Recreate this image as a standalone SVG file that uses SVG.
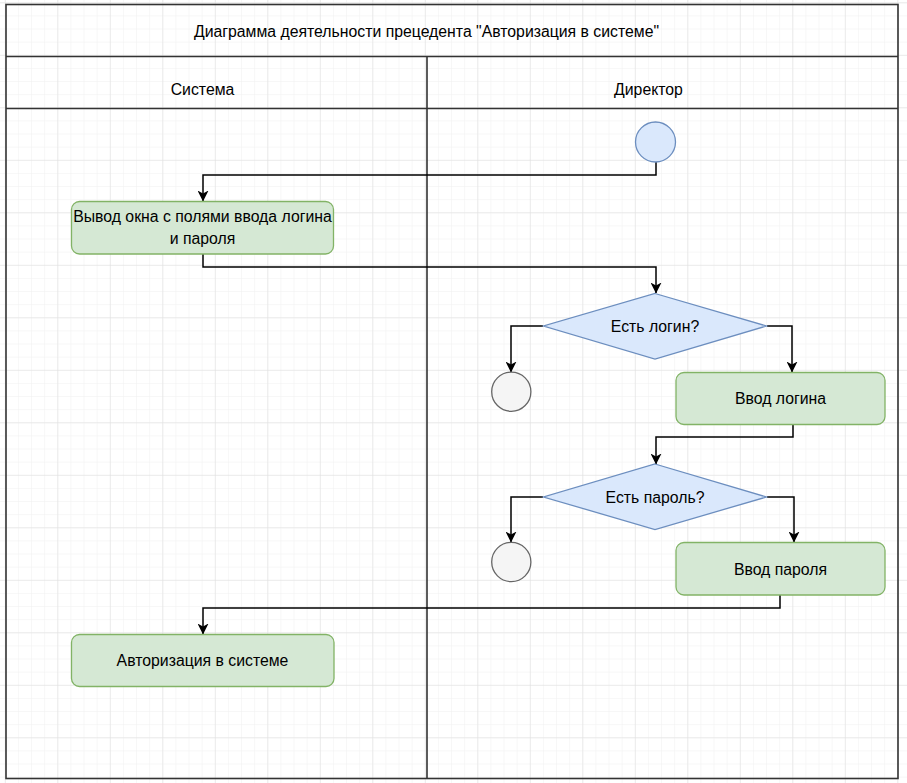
<svg xmlns="http://www.w3.org/2000/svg" width="907" height="783" viewBox="0 0 907 783">
<style>
.t{font-family:"Liberation Sans",Arial,sans-serif;font-size:15.8px;fill:#000;text-anchor:middle;dominant-baseline:central}
.frame{fill:none;stroke:#333;stroke-width:1.6}
.act{fill:#d5e8d4;stroke:#82b366;stroke-width:1.3}
.dec{fill:#dae8fc;stroke:#6c8ebf;stroke-width:1.3}
.end{fill:#f5f5f5;stroke:#666;stroke-width:1.3}
.edge{fill:none;stroke:#000;stroke-width:1.5}
</style>
<defs>
<pattern id="minor" x="4.8" y="2.3" width="13.125" height="13.125" patternUnits="userSpaceOnUse">
<path d="M0,0 V13.125 M0,0 H13.125" fill="none" stroke="#f0f0f0" stroke-width="1"/>
</pattern>
<pattern id="major" x="4.8" y="2.3" width="52.5" height="52.5" patternUnits="userSpaceOnUse">
<path d="M0,0 V52.5 M0,0 H52.5" fill="none" stroke="#dedede" stroke-width="1"/>
</pattern>
<marker id="arr" viewBox="0 0 11 11" markerWidth="11" markerHeight="11" refX="10.5" refY="5.5" orient="auto" markerUnits="userSpaceOnUse">
<path d="M0,0 L11,5.5 L0,11 L3,5.5 Z" fill="#000"/>
</marker>
</defs>
<rect width="907" height="783" fill="#fff"/>
<rect width="907" height="783" fill="url(#minor)"/>
<rect width="907" height="783" fill="url(#major)"/>

<g id="pool">
<rect class="frame" x="6" y="4.5" width="892" height="774"/>
<line class="frame" x1="6" y1="56.5" x2="898" y2="56.5"/>
<line class="frame" x1="6" y1="108.5" x2="898" y2="108.5"/>
<line class="frame" x1="427" y1="56.5" x2="427" y2="778.5"/>
<text class="t" x="426.5" y="31">Диаграмма деятельности прецедента "Авторизация в системе"</text>
</g>
<g id="lane-system"><text class="t" x="202.5" y="89">Система</text></g>
<g id="lane-director"><text class="t" x="648.5" y="89">Директор</text></g>

<g id="edges">
<path class="edge" marker-end="url(#arr)" d="M656,162 V175 H203 V201"/>
<path class="edge" marker-end="url(#arr)" d="M203,254 V267 H656 V293"/>
<path class="edge" marker-end="url(#arr)" d="M543,326 H511 V372"/>
<path class="edge" marker-end="url(#arr)" d="M767,326 H792 V372"/>
<path class="edge" marker-end="url(#arr)" d="M793,424 V437 H656 V464"/>
<path class="edge" marker-end="url(#arr)" d="M543,497 H511 V542"/>
<path class="edge" marker-end="url(#arr)" d="M767,497 H794 V542"/>
<path class="edge" marker-end="url(#arr)" d="M780,595 V608 H203 V634"/>
</g>

<g id="start"><circle class="dec" cx="655.5" cy="142" r="20"/></g>
<g id="show-window">
<rect class="act" x="71.5" y="201.5" width="262" height="52.5" rx="8"/>
<text class="t" x="202.5" y="216">Вывод окна с полями ввода логина</text>
<text class="t" x="202.5" y="238">и пароля</text>
</g>
<g id="has-login">
<polygon class="dec" points="655,293.5 766.5,326 655,359 543.5,326"/>
<text class="t" x="655" y="326">Есть логин?</text>
</g>
<g id="end1"><circle class="end" cx="511.3" cy="391.7" r="19.6"/></g>
<g id="enter-login">
<rect class="act" x="676" y="372.5" width="209" height="52" rx="8"/>
<text class="t" x="780.5" y="398">Ввод логина</text>
</g>
<g id="has-password">
<polygon class="dec" points="655,464 766.5,497 655,529.5 543.5,497"/>
<text class="t" x="655" y="497">Есть пароль?</text>
</g>
<g id="end2"><circle class="end" cx="511.3" cy="562" r="19.6"/></g>
<g id="enter-password">
<rect class="act" x="676" y="542.5" width="209" height="52.5" rx="8"/>
<text class="t" x="780.5" y="569">Ввод пароля</text>
</g>
<g id="authorize">
<rect class="act" x="71.5" y="634.5" width="262.5" height="52" rx="8"/>
<text class="t" x="202.5" y="660.5">Авторизация в системе</text>
</g>
</svg>
